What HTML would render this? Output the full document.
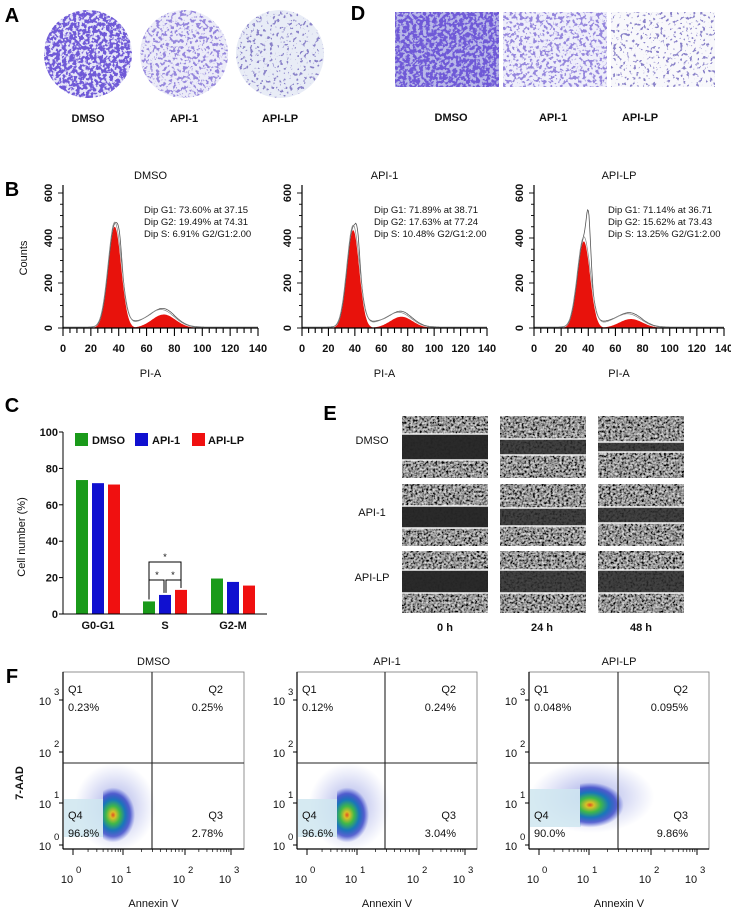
<!DOCTYPE html>
<html><head><meta charset="utf-8">
<style>
html,body{margin:0;padding:0;background:#fff;}
svg{display:block;font-family:"Liberation Sans",Arial,sans-serif;}
.lt{font-weight:bold;font-size:20px;}
.t{font-size:11px;fill:#111;}
.tb{font-size:11px;font-weight:bold;fill:#111;}
.s{font-size:9.5px;fill:#111;}
</style></head>
<body>
<svg id="fig" width="731" height="913" viewBox="0 0 731 913" xmlns="http://www.w3.org/2000/svg">
<defs>
<filter id="specHi" x="0" y="0" width="100%" height="100%">
<feTurbulence type="fractalNoise" baseFrequency="0.3" numOctaves="2" seed="4"/>
<feColorMatrix type="matrix" values="0 0 0 0 0.16  0 0 0 0 0.10  0 0 0 0 0.68  10 0 0 0 -4.3"/>
</filter>
<filter id="specMid" x="0" y="0" width="100%" height="100%">
<feTurbulence type="fractalNoise" baseFrequency="0.3" numOctaves="2" seed="7"/>
<feColorMatrix type="matrix" values="0 0 0 0 0.30  0 0 0 0 0.24  0 0 0 0 0.72  10 0 0 0 -5.2"/>
</filter>
<filter id="specLo" x="0" y="0" width="100%" height="100%">
<feTurbulence type="fractalNoise" baseFrequency="0.3" numOctaves="2" seed="9"/>
<feColorMatrix type="matrix" values="0 0 0 0 0.25  0 0 0 0 0.22  0 0 0 0 0.58  12 0 0 0 -7.2"/>
</filter>
<filter id="gray" x="0" y="0" width="100%" height="100%">
<feTurbulence type="fractalNoise" baseFrequency="0.45" numOctaves="2" seed="2"/>
<feColorMatrix type="matrix" values="1.5 0 0 0 -0.45  1.5 0 0 0 -0.45  1.5 0 0 0 -0.45  0 0 0 0 1"/>
</filter>
<radialGradient id="blob" cx="50%" cy="50%" r="50%">
<stop offset="0" stop-color="#e05020"/>
<stop offset="0.12" stop-color="#d8c028"/>
<stop offset="0.32" stop-color="#40b848"/>
<stop offset="0.55" stop-color="#1878b8"/>
<stop offset="0.78" stop-color="#2030c0" stop-opacity="0.7"/>
<stop offset="1" stop-color="#3040d0" stop-opacity="0"/>
</radialGradient>
<radialGradient id="halo" cx="50%" cy="50%" r="50%">
<stop offset="0" stop-color="#3040c8" stop-opacity="0.45"/>
<stop offset="1" stop-color="#5060d0" stop-opacity="0"/>
</radialGradient>
</defs>
<g id="root"></g>
</svg>
<script>
// ---------- data ----------
const groups = ["DMSO","API-1","API-LP"];
const g1Mean = [37.15,38.71,36.71];
const g1Height = [450,435,385];
const g2Mean = [74.31,77.24,73.43];
const g2Height = [60,50,40];
const spikeHeight = [520,520,600];
const statG1 = ["Dip G1: 73.60% at 37.15","Dip G1: 71.89% at 38.71","Dip G1: 71.14% at 36.71"];
const statG2 = ["Dip G2: 19.49% at 74.31","Dip G2: 17.63% at 77.24","Dip G2: 15.62% at 73.43"];
const statS = ["Dip S: 6.91% G2/G1:2.00","Dip S: 10.48%  G2/G1:2.00","Dip S: 13.25% G2/G1:2.00"];
const histTicks = [0,20,40,60,80,100,120,140];
const countTicks = [0,200,400,600];
const phases = ["G0-G1","S","G2-M"];
const dmsoPct = [73.6,6.91,19.49];
const api1Pct = [71.89,10.48,17.63];
const apiLpPct = [71.14,13.25,15.62];
const pctTicks = [0,20,40,60,80,100];
const q1 = ["0.23%","0.12%","0.048%"];
const q2 = ["0.25%","0.24%","0.095%"];
const q3 = ["2.78%","3.04%","9.86%"];
const q4 = ["96.8%","96.6%","90.0%"];
const woundTop = [[434,439,442],[506,508,507],[570,570,570]];
const woundBot = [[460,455,452],[528,526,523],[593,593,593]];

const NS="http://www.w3.org/2000/svg";
const root=document.getElementById('root');
function mk(tag,attrs,parent,text){const e=document.createElementNS(NS,tag);for(const k in attrs)e.setAttribute(k,attrs[k]);if(text!==undefined)e.textContent=text;(parent||root).appendChild(e);return e;}
function txt(x,y,s,cls,anchor,parent){const e=mk('text',{x:x,y:y,'class':cls,'text-anchor':anchor||'middle'},parent,s);return e;}

// ---------- letters ----------
const letters=[["A",12,22],["D",358,20],["B",12,196],["C",12,412],["E",330,420],["F",12,683]];
letters.forEach(l=>{const e=txt(l[1],l[2],l[0],'lt','middle');

});

// ---------- Panel A ----------
const aCx=[88,184,280], aFil=['specHi','specMid','specLo'], aBg=['#e6e6f8','#ececf8','#e8ecf6'];
aCx.forEach((cx,i)=>{
 const g=mk('g',{});
 
 
 const cp=mk('clipPath',{id:'cw'+i},g);mk('ellipse',{cx:cx,cy:54,rx:44,ry:44},cp);
 const gg=mk('g',{'clip-path':'url(#cw'+i+')'},g);
 mk('rect',{x:cx-44,y:10,width:88,height:88,fill:aBg[i]},gg);
 mk('rect',{x:cx-44,y:10,width:88,height:88,filter:'url(#'+aFil[i]+')'},gg);
 const t=txt(cx,122,groups[i],'tb');
 
 
});

// ---------- Panel D ----------
const dX=[395,503,611], dFil=['specHi','specMid','specLo'], dBg=['#b8b8e8','#eeeefa','#f8f8fb'], dLab=[451,553,640];
dX.forEach((x,i)=>{
 const g=mk('g',{});
 
 
 mk('rect',{x:x,y:12,width:104,height:75,fill:dBg[i]},g);
 mk('rect',{x:x,y:12,width:104,height:75,filter:'url(#'+dFil[i]+')'},g);
 const t=txt(dLab[i],121,groups[i],'tb');
 
 
});

// ---------- Panel B histograms ----------
const bX0=[63,302,534], bX1=[258,487,724], bY0=328, bY600=193;
function gauss(x,m,s,h){return h*Math.exp(-0.5*((x-m)/s)**2);}
for(let i=0;i<3;i++){
 const g=mk('g',{});
 
 
 const sx=v=>bX0[i]+(bX1[i]-bX0[i])*v/140;
 const sy=v=>bY0-(bY0-bY600)*v/600;
 let p1='M'+sx(15)+','+sy(0), p2='M'+sx(45)+','+sy(0), gl='', gl2='';
 for(let v=15;v<=60;v+=0.5)p1+=' L'+sx(v).toFixed(1)+','+sy(gauss(v,g1Mean[i],4.6,g1Height[i])).toFixed(1);
 p1+=' Z';
 for(let v=45;v<=105;v+=0.5)p2+=' L'+sx(v).toFixed(1)+','+sy(gauss(v,g2Mean[i]-2,8.5,g2Height[i])).toFixed(1);
 p2+=' Z';
 for(let v=0;v<=140;v+=0.5){
  const base=gauss(v,g1Mean[i],4.6,g1Height[i])+gauss(v,g2Mean[i]-2,8.5,g2Height[i]+15)+gauss(v,55,12,22)*(v>40&&v<80?1:0.6)+gauss(v,g1Mean[i]+3.5,1.6,spikeHeight[i]-g1Height[i]);
  gl+=(v===0?'M':' L')+sx(v).toFixed(1)+','+sy(base+4).toFixed(1);
  const b2=gauss(v,g1Mean[i],4.8,g1Height[i]+15)+gauss(v,g2Mean[i]-3,9,g2Height[i]+10)+gauss(v,58,12,18);
  gl2+=(v===0?'M':' L')+sx(v).toFixed(1)+','+sy(b2+2).toFixed(1);
 }
 const r1=mk('path',{d:p1,fill:'#e8120c'},g);
 const r2=mk('path',{d:p2,fill:'#e8120c'},g);
 const l1=mk('path',{d:gl,fill:'none',stroke:'#555','stroke-width':0.8},g);
 mk('path',{d:gl2,fill:'none',stroke:'#888','stroke-width':0.7},g);
 mk('line',{x1:bX0[i],y1:bY600-8,x2:bX0[i],y2:bY0,stroke:'#000','stroke-width':1.2},g);
 mk('line',{x1:bX0[i],y1:bY0,x2:bX1[i],y2:bY0,stroke:'#000','stroke-width':1.2},g);
 for(let v=0;v<=140;v+=5){mk('line',{x1:sx(v),y1:bY0,x2:sx(v),y2:bY0+(v%20===0?8:5),stroke:'#000','stroke-width':1.1},g);}
 for(let v=0;v<=600;v+=50){mk('line',{x1:bX0[i]-(v%200===0?5:3),y1:sy(v),x2:bX0[i],y2:sy(v),stroke:'#000','stroke-width':0.9},g);}
 histTicks.forEach(v=>{const t=txt(sx(v),352,String(v),'tb','middle',g);});
 countTicks.forEach(v=>{const t=mk('text',{x:0,y:0,'class':'tb','text-anchor':'middle',transform:'translate('+(bX0[i]-11)+','+sy(v)+') rotate(-90)'},g,String(v));});
 const tt=txt((bX0[i]+bX1[i])/2-10,179,groups[i],'t','middle',g);
 const xa=txt((bX0[i]+bX1[i])/2-10,377,'PI-A','t','middle',g);
 const sx0=[144,374,608][i];
 [statG1[i],statG2[i],statS[i]].forEach((s,k)=>{const t=txt(sx0,213+k*12,s,'s','start',g);});
}
{const t=mk('text',{x:0,y:0,'class':'t','text-anchor':'middle',transform:'translate(27,258) rotate(-90)'},root,'Counts');
}

// ---------- Panel C bar chart ----------
{
 const g=mk('g',{});
 
 
 const ax=63, y0=614, y100=432, xEnd=267;
 const sy=v=>y0-(y0-y100)*v/100;
 const gc=[98,165,233], bw=12, step=16;
 const series=[dmsoPct,api1Pct,apiLpPct], cols=['#1a9a1a','#1010d0','#f01010'];
 series.forEach((arr,s)=>arr.forEach((v,c)=>{
  const x=gc[c]+(s-1)*step-bw/2;
  const r=mk('rect',{x:x,y:sy(v),width:bw,height:y0-sy(v),fill:cols[s]},g);
  
  
 }));
 mk('line',{x1:ax,y1:y100,x2:ax,y2:y0,stroke:'#000','stroke-width':1},g);
 mk('line',{x1:ax,y1:y0,x2:xEnd,y2:y0,stroke:'#000','stroke-width':1},g);
 pctTicks.forEach(v=>{mk('line',{x1:ax-4,y1:sy(v),x2:ax,y2:sy(v),stroke:'#000'},g);
  const t=txt(ax-5,sy(v)+4,String(v),'tb','end',g);});
 phases.forEach((p,c)=>{const t=txt(gc[c],629,p,'tb','middle',g);});
 const yl=mk('text',{x:0,y:0,'class':'t','text-anchor':'middle',transform:'translate(25,537) rotate(-90)'},g,'Cell number (%)');
 
 const lx=[75,135,192], ltx=[92,152,208];
 groups.forEach((n,s)=>{const lg=mk('g',{},g);
  mk('rect',{x:lx[s],y:433,width:13,height:13,fill:cols[s]},lg);txt(ltx[s],444,n,'tb','start',lg);});
 const sg=mk('g',{fill:'none',stroke:'#000','stroke-width':1},g);
 
 const xs=[gc[1]-step,gc[1],gc[1]+step];
 mk('path',{d:`M${xs[0]},${sy(dmsoPct[1])-2} V562 H${xs[2]} V${sy(apiLpPct[1])-2}`},sg);
 mk('path',{d:`M${xs[0]},${sy(dmsoPct[1])-2} V580 H${xs[1]-1} V${sy(api1Pct[1])-2}`},sg);
 mk('path',{d:`M${xs[1]+1},${sy(api1Pct[1])-2} V580 H${xs[2]} V${sy(apiLpPct[1])-2}`},sg);
 txt((xs[0]+xs[2])/2,560,'*','s','middle',g);txt((xs[0]+xs[1])/2,578,'*','s','middle',g);txt((xs[1]+xs[2])/2,578,'*','s','middle',g);
}

// ---------- Panel E wound healing ----------
const eX=[402,500,598], eY=[416,484,551], eH=62, eW=86;
const times=["0 h","24 h","48 h"], eLabX=[445,542,641];
for(let r=0;r<3;r++){
 for(let c=0;c<3;c++){
  const g=mk('g',{});
  
  
  mk('rect',{x:eX[c],y:eY[r],width:eW,height:eH,filter:'url(#gray)'},g);
  mk('rect',{x:eX[c],y:woundTop[r][c],width:eW,height:woundBot[r][c]-woundTop[r][c],fill:c===0?'#252525':'#2c2c2c',opacity:c===0?0.97:0.85},g);
  mk('line',{x1:eX[c],y1:woundTop[r][c],x2:eX[c]+eW,y2:woundTop[r][c],stroke:'#f4f4f4','stroke-width':1.6},g);
  mk('line',{x1:eX[c],y1:woundBot[r][c],x2:eX[c]+eW,y2:woundBot[r][c],stroke:'#f4f4f4','stroke-width':1.6},g);
 }
 const t=txt(372,[444,516,581][r],groups[r],'t','middle');
 
}
times.forEach((s,c)=>{const t=txt(eLabX[c],631,s,'tb','middle');});

// ---------- Panel F flow cytometry ----------
const fX0=[63,297,529], fX1=[244,477,709], fY0=672, fY1=849, fV=[152,385,618], fH=763;
const blobC=[[113,815,17,22],[347,815,17,22],[590,805,26,18]];
for(let i=0;i<3;i++){
 const g=mk('g',{});
 
 
 const b=blobC[i];
 mk('ellipse',{cx:b[0]+2,cy:b[1]-8,rx:b[2]*2.4,ry:b[3]*2.0,fill:'url(#halo)'},g);
 mk('rect',{x:fX0[i]+1,y:b[1]-16,width:b[0]-10-fX0[i],height:38,fill:'#cfe6f0',opacity:0.85},g);
 const cp=mk('clipPath',{id:'fb'+i},g);mk('rect',{x:b[0]-10,y:fY0,width:200,height:180},cp);
 const bl=mk('ellipse',{cx:b[0],cy:b[1],rx:b[2]*1.3,ry:b[3]*1.25,fill:'url(#blob)','clip-path':'url(#fb'+i+')'},g);
 
 mk('rect',{x:fX0[i],y:fY0,width:fX1[i]-fX0[i],height:fY1-fY0,fill:'none',stroke:'#777','stroke-width':0.8},g);
 mk('line',{x1:fX0[i],y1:fY0,x2:fX0[i],y2:fY1,stroke:'#000','stroke-width':1.2},g);
 mk('line',{x1:fX0[i],y1:fY1,x2:fX1[i],y2:fY1,stroke:'#000','stroke-width':1.2},g);
 mk('line',{x1:fV[i],y1:fY0,x2:fV[i],y2:fY1,stroke:'#222','stroke-width':1.1},g);
 mk('line',{x1:fX0[i],y1:fH,x2:fX1[i],y2:fH,stroke:'#222','stroke-width':1.1},g);
 const xd=[fX0[i]+10,fX0[i]+60,fX0[i]+122,fX0[i]+168];
 xd.forEach((x,k)=>{mk('line',{x1:x,y1:fY1,x2:x,y2:fY1+6,stroke:'#000'},g);
  if(k<3)for(let m=2;m<10;m++){const xx=x+(xd[k+1]-x)*Math.log10(m);mk('line',{x1:xx,y1:fY1,x2:xx,y2:fY1+3,stroke:'#000','stroke-width':0.7},g);}
  const t=mk('text',{x:x-6,y:883,'class':'t','text-anchor':'middle'},g);t.textContent='10';
  
  mk('text',{x:x+3,y:873,'class':'s','text-anchor':'start'},g,String(k));
 });
 const yd=[845,803,752,700];
 yd.forEach((y,k)=>{mk('line',{x1:fX0[i]-4,y1:y,x2:fX0[i],y2:y,stroke:'#000'},g);
  const t=mk('text',{x:fX0[i]-18,y:y+5,'class':'t','text-anchor':'middle'},g,'10');
  
  mk('text',{x:fX0[i]-9,y:y-5,'class':'s','text-anchor':'start'},g,String(k));
 });
 const tt=txt((fX0[i]+fX1[i])/2,665,groups[i],'t','middle',g);
 const xa=txt((fX0[i]+fX1[i])/2,907,'Annexin V','t','middle',g);
 const qs=[['Q1',fX0[i]+5,693,'start'],[q1[i],fX0[i]+5,711,'start'],['Q2',fX1[i]-21,693,'end'],[q2[i],fX1[i]-21,711,'end'],
   ['Q4',fX0[i]+5,819,'start'],[q4[i],fX0[i]+5,837,'start'],['Q3',fX1[i]-21,819,'end'],[q3[i],fX1[i]-21,837,'end']];
 qs.forEach(q=>{const t=txt(q[1],q[2],q[0],'t',q[3],g);});
}
{const t=mk('text',{x:0,y:0,'class':'tb','text-anchor':'middle',transform:'translate(23,783) rotate(-90)'},root,'7-AAD');
}
</script>
</body></html>
